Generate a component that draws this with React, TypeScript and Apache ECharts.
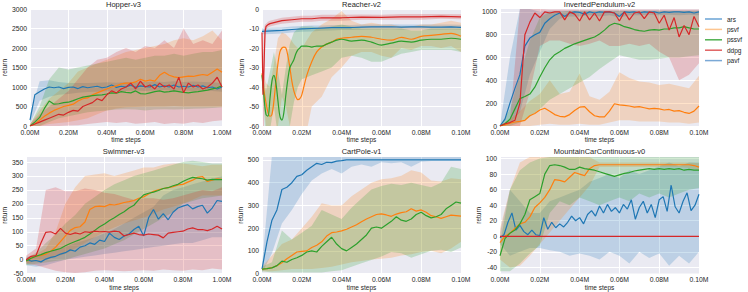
import React, { useEffect, useRef } from "react";
import * as echarts from "echarts";

// ---------- colours ----------
const LINE: Record<string, string> = { ars: "#1f77b4", psvf: "#ff7f0e", pssvf: "#2ca02c", ddpg: "#d62728", pavf: "#7ba9d6" };
const FILL: Record<string, string> = {
  ars: "rgba(31,119,180,0.22)",
  psvf: "rgba(255,127,14,0.22)",
  pssvf: "rgba(44,160,44,0.22)",
  ddpg: "rgba(214,39,40,0.22)",
};
const LEGEND_NAMES = ["ars", "psvf", "pssvf", "ddpg", "pavf"];
const LEGEND_COLORS = ["#6aa3d5", "#fdc590", "#50b050", "#e06060", "#7ba9d6"];

// time-step grids (sample positions, in millions of steps)
const steps = (n: number, dx: number) => Array.from({ length: n }, (_, i) => +(i * dx).toFixed(5));
const X41_1 = steps(41, 0.025);
const X21_1 = steps(21, 0.05);
const X41_01 = steps(41, 0.0025);
const X21_01 = steps(21, 0.005);
const X51_01 = steps(51, 0.002);

// ---------- Hopper-v3 ----------
const hopperArs = [150, 800, 880, 950, 1000, 980, 1000, 960, 990, 1000, 960, 1010, 980, 1000, 1020, 980, 1000, 1050, 990, 1020, 1000, 1050, 990, 1030, 1010, 1000, 1060, 1000, 1030, 1000, 1050, 1000, 1020, 1000, 1040, 1000, 1030, 980, 1000, 950, 1000];
const hopperPsvf = [0, 50, 150, 250, 330, 400, 450, 500, 530, 560, 640, 700, 720, 800, 850, 900, 950, 1000, 1030, 1080, 1100, 1100, 1130, 1200, 1150, 1180, 1150, 1300, 1380, 1300, 1260, 1240, 1260, 1280, 1270, 1300, 1320, 1300, 1380, 1460, 1380];
const hopperPssvf = [0, 100, 220, 450, 640, 560, 570, 600, 610, 650, 700, 740, 760, 780, 790, 800, 820, 850, 840, 880, 860, 850, 900, 830, 820, 850, 880, 900, 870, 880, 900, 880, 860, 850, 870, 880, 900, 920, 950, 980, 1030];
const hopperDdpg = [0, 50, 100, 150, 200, 250, 300, 280, 350, 400, 380, 500, 550, 600, 700, 650, 800, 900, 850, 950, 1000, 1100, 950, 1150, 1000, 1050, 950, 1100, 1000, 1050, 950, 1250, 850, 1100, 1000, 1050, 950, 1000, 1100, 1250, 1000];
const hopperArsLo = [50, 650, 750, 800, 820, 850, 870, 880, 890, 900, 900, 910, 900, 910, 920, 900, 910, 900, 910, 900, 880];
const hopperArsHi = [300, 1150, 1170, 1130, 1100, 1100, 1100, 1110, 1120, 1110, 1130, 1120, 1130, 1140, 1130, 1150, 1130, 1140, 1130, 1120, 1100];
const hopperPsvfLo = [0, 0, 50, 80, 100, 150, 200, 300, 400, 450, 480, 490, 500, 500, 500, 510, 500, 500, 500, 500, 500];
const hopperPsvfHi = [50, 400, 700, 900, 1100, 1400, 1500, 1600, 1700, 1800, 1900, 1950, 2000, 2050, 2100, 2200, 2250, 2200, 2300, 2450, 2200];
const hopperPssvfLo = [0, 0, 100, 200, 250, 300, 350, 380, 400, 420, 430, 420, 400, 420, 430, 420, 430, 440, 450, 460, 480];
const hopperPssvfHi = [30, 500, 1200, 1500, 1450, 1500, 1550, 1600, 1650, 1700, 1750, 1700, 1750, 1800, 1800, 1850, 1800, 1850, 1900, 1900, 1950];
const hopperDdpgLo = [0, 0, 0, 0, 10, 20, 50, 80, 100, 80, 100, 60, 80, 100, 50, 80, 60, 100, 80, 120, 150];
const hopperDdpgHi = [50, 300, 500, 700, 900, 1200, 1500, 1700, 1750, 1900, 2000, 1900, 2050, 2000, 2200, 2000, 2500, 2100, 2200, 2100, 2450];

// ---------- Reacher-v2 ----------
const reacherX = [0, 0.001, 0.002, 0.003, 0.004, 0.005, 0.006, 0.007, 0.008, 0.009, 0.01, 0.011, 0.012, 0.013, 0.014, 0.015, 0.016, 0.017, 0.018, 0.019, 0.02, 0.0225, 0.025, 0.0275, 0.03, 0.0325, 0.035, 0.0375, 0.04, 0.045, 0.05, 0.055, 0.06, 0.065, 0.07, 0.075, 0.08, 0.085, 0.09, 0.095, 0.1];
const reacherPsvf = [-33, -42, -48, -53, -55, -54, -47, -37, -28, -22, -20, -19.5, -20, -24, -30, -37, -42, -45, -46.5, -46, -44, -34, -27, -22, -19.5, -18, -17, -15.5, -15, -14.5, -14, -14.5, -15.5, -16, -14.5, -15.5, -14, -13.5, -13, -12.5, -14];
const reacherPssvf = [-34, -45, -54, -55, -46, -37, -34, -38, -47, -55, -57, -53, -44, -36, -30, -28, -26, -23, -21, -20, -19, -19, -19.5, -19, -19, -18, -17, -16, -15.5, -16.5, -16, -17, -18.5, -17.5, -16.5, -17, -16, -15.5, -15.5, -15, -15.5];
const reacherDdpgX = [0, 0.0005, 0.001, 0.0015, 0.002, 0.003, 0.004, 0.006, 0.008, 0.01, 0.015, 0.02, 0.025, 0.03, 0.04, 0.05, 0.06, 0.07, 0.08, 0.09, 0.1];
const reacherDdpg = [-12, -44, -30, -12, -9, -8, -7.5, -7, -6.5, -6, -5.5, -5, -5, -4.5, -4.5, -4.2, -4.3, -4, -4, -3.8, -4];
const reacherDdpgLo = [-13, -60, -60, -20, -10.5, -9.5, -9, -8.5, -8, -7.5, -7, -6.5, -6.5, -6, -6, -5.5, -5.5, -5.5, -5.5, -5, -5.3];
const reacherDdpgHi = [-11, -30, -10, -8, -7.5, -6.5, -6, -5.5, -5, -4.5, -4, -3.5, -3.5, -3, -3, -2.8, -2.9, -2.6, -2.6, -2.5, -2.7];
const reacherArs = [-11.5, -11.2, -11, -10.5, -10.2, -10, -9.8, -9.6, -9.5, -9.5, -9.3, -9.2, -9.2, -9.1, -9.3, -9.2, -9.2, -9.3, -9.3, -9.2, -9.4];
const reacherArsLo = [-13, -12.8, -12.5, -12, -11.7, -11.5, -11.2, -11, -10.8, -10.8, -10.6, -10.5, -10.5, -10.4, -10.6, -10.5, -10.5, -10.6, -10.6, -10.5, -10.7];
const reacherArsHi = [-10, -9.6, -9.5, -9, -8.7, -8.5, -8.4, -8.2, -8.2, -8.2, -8, -7.9, -7.9, -7.8, -8, -7.9, -7.9, -8, -8, -7.9, -8.1];
const reacherBandX = [0, 0.002, 0.004, 0.006, 0.008, 0.01, 0.012, 0.014, 0.016, 0.018, 0.02, 0.025, 0.03, 0.035, 0.04, 0.045, 0.05, 0.055, 0.06, 0.065, 0.07, 0.075, 0.08, 0.085, 0.09, 0.095, 0.1];
const reacherPsvfLo = [-36, -60, -70, -70, -60, -45, -50, -60, -70, -75, -75, -50, -45, -35, -30, -24, -22, -22, -24, -25, -20, -21, -19, -19, -20, -19, -22];
const reacherPsvfHi = [-30, -38, -40, -28, -15, -12, -13, -15, -18, -20, -20, -12, -8, -5, -1, -6, -8, -7, -8, -8, -9, -9, -8, -8, -7, -6, -7];
const reacherPssvfLo = [-36, -70, -62, -50, -65, -70, -70, -60, -48, -40, -36, -34, -32, -30, -25, -24, -25, -27, -27, -25, -23, -22, -21, -21, -21, -21, -22];
const reacherPssvfHi = [-32, -42, -32, -22, -32, -44, -30, -18, -12, -10, -9, -9, -10, -9, -8, -9, -10, -10, -10, -10, -10, -11, -11, -10, -10, -10, -10];

// ---------- InvertedPendulum-v2 ----------
const pendArs = [0, 60, 200, 330, 450, 700, 770, 800, 820, 900, 940, 970, 990, 960, 990, 1000, 995, 980, 1000, 990, 1000, 995, 1000, 990, 960, 1000, 995, 1000, 990, 1000, 995, 1000, 990, 1000, 995, 1000, 1000, 995, 1000, 990, 1000];
const pendPsvf = [0, 10, 25, 35, 40, 50, 90, 110, 140, 155, 130, 100, 85, 80, 100, 135, 165, 170, 125, 90, 80, 80, 130, 195, 185, 180, 175, 165, 170, 160, 150, 155, 150, 140, 145, 130, 135, 120, 110, 130, 175];
const pendPssvf = [0, 20, 60, 150, 240, 258, 280, 340, 430, 510, 580, 625, 650, 680, 700, 720, 735, 750, 765, 780, 806, 840, 880, 900, 890, 870, 860, 845, 835, 830, 840, 845, 840, 850, 850, 860, 860, 870, 860, 850, 850];
const pendDdpg = [0, 20, 30, 50, 200, 800, 910, 990, 950, 1000, 990, 1000, 1000, 930, 1000, 980, 920, 1000, 930, 990, 920, 1000, 1000, 990, 920, 1000, 930, 990, 1000, 940, 1000, 990, 900, 970, 840, 950, 780, 880, 800, 960, 870];
const pendArsLo = [0, 20, 120, 450, 650, 850, 940, 960, 960, 970, 960, 970, 950, 970, 970, 975, 970, 975, 970, 975, 970];
const pendArsHi = [0, 600, 1025, 1025, 1000, 1010, 1010, 1010, 1010, 1010, 1010, 1010, 1010, 1010, 1010, 1010, 1010, 1010, 1010, 1010, 1010];
const pendPsvfLo = [0, 0, 0, 0, 10, 20, 10, 10, 20, 10, 10, 30, 50, 50, 40, 40, 40, 30, 30, 20, 30];
const pendPsvfHi = [0, 60, 130, 220, 280, 400, 280, 300, 460, 260, 230, 300, 470, 420, 390, 380, 360, 370, 350, 330, 440];
const pendPssvfLo = [0, 0, 30, 80, 150, 230, 280, 330, 380, 430, 500, 560, 620, 600, 580, 580, 590, 600, 600, 610, 620];
const pendPssvfHi = [0, 150, 450, 750, 950, 1000, 1000, 1010, 1010, 1010, 1010, 1010, 1010, 1010, 1010, 1010, 1010, 1010, 1010, 1010, 1010];
const pendDdpgLo = [0, 0, 0, 300, 700, 750, 750, 720, 700, 720, 750, 700, 700, 720, 700, 720, 650, 600, 400, 450, 550];
const pendDdpgHi = [0, 60, 1025, 1025, 1025, 1020, 1020, 1020, 1020, 1020, 1020, 1020, 1020, 1020, 1020, 1020, 1020, 1020, 1020, 1020, 1020];

// ---------- Swimmer-v3 ----------
const swimArs = [0, -5, -3, -8, 2, 8, 12, 20, 25, 35, 30, 45, 50, 60, 55, 70, 65, 95, 80, 72, 85, 92, 108, 120, 85, 150, 180, 145, 165, 143, 170, 185, 192, 197, 182, 190, 195, 167, 185, 212, 209];
const swimPsvf = [-5, 5, 12, 15, 20, 30, 45, 65, 85, 105, 115, 118, 135, 180, 190, 192, 190, 198, 196, 200, 205, 208, 212, 220, 225, 235, 245, 250, 255, 258, 262, 268, 270, 278, 285, 295, 298, 280, 285, 290, 288];
const swimPssvf = [-5, 5, 12, 18, 25, 30, 35, 40, 50, 58, 65, 72, 80, 92, 105, 118, 128, 140, 150, 162, 172, 185, 195, 215, 232, 238, 242, 248, 255, 258, 265, 270, 280, 288, 295, 292, 290, 285, 288, 287, 287];
const swimDdpg = [0, 12, 15, 60, 98, 100, 92, 112, 95, 90, 96, 92, 100, 98, 102, 100, 101, 99, 102, 100, 85, 90, 95, 90, 88, 92, 90, 88, 78, 95, 98, 100, 102, 110, 114, 108, 108, 104, 110, 120, 110];
const swimArsLo = [-20, -25, -20, -10, 0, 5, 10, 15, 20, 25, 30, 35, 40, 45, 50, 55, 60, 60, 70, 80, 80];
const swimArsHi = [10, 15, 20, 35, 45, 60, 70, 80, 95, 110, 130, 150, 170, 190, 230, 250, 260, 270, 280, 290, 300];
const swimPsvfLo = [-15, -5, 0, 10, 20, 40, 60, 80, 100, 115, 130, 140, 150, 165, 180, 190, 200, 215, 230, 230, 230];
const swimPsvfHi = [5, 20, 40, 100, 200, 260, 300, 305, 310, 300, 310, 320, 330, 330, 340, 345, 345, 340, 335, 340, 340];
const swimPssvfLo = [-20, -15, -10, -5, 0, 10, 20, 30, 40, 55, 70, 90, 110, 130, 150, 170, 200, 210, 220, 225, 230];
const swimPssvfHi = [5, 25, 60, 90, 130, 160, 200, 225, 250, 270, 285, 300, 310, 320, 330, 340, 350, 355, 350, 345, 345];
const swimDdpgLo = [-15, -20, -30, -40, -45, -48, -45, -40, -38, -40, -42, -40, -38, -40, -35, -38, -40, -35, -38, -32, -35];
const swimDdpgHi = [15, 40, 250, 260, 245, 245, 255, 250, 240, 235, 225, 215, 220, 220, 215, 220, 230, 240, 250, 245, 260];

// ---------- CartPole-v1 ----------
const cartArs = [20, 140, 235, 280, 370, 380, 400, 428, 435, 455, 470, 485, 480, 490, 488, 495, 497, 500, 500, 500, 500, 500, 500, 500, 500, 500, 500, 500, 500, 500, 500, 500, 500, 500, 500, 500, 500, 500, 500, 500, 500];
const cartPsvf = [20, 22, 26, 35, 48, 65, 80, 95, 98, 100, 115, 125, 140, 165, 180, 183, 188, 195, 205, 215, 228, 240, 250, 260, 263, 258, 252, 262, 268, 272, 285, 275, 280, 270, 255, 250, 243, 250, 257, 255, 253];
const cartPssvf = [20, 22, 25, 35, 55, 50, 62, 70, 80, 95, 100, 95, 120, 140, 160, 130, 110, 100, 115, 130, 150, 170, 200, 205, 200, 215, 230, 250, 235, 230, 240, 260, 270, 255, 245, 250, 260, 285, 300, 315, 310];
const cartArsLo = [0, 90, 220, 280, 350, 410, 440, 460, 440, 470, 480, 470, 490, 485, 490, 470, 492, 495, 495, 495, 495];
const cartArsHi = [40, 520, 520, 520, 520, 520, 520, 520, 520, 520, 520, 520, 520, 520, 520, 520, 520, 520, 520, 520, 520];
const cartPsvfLo = [10, 10, 15, 20, 20, 20, 25, 30, 40, 50, 55, 62, 65, 70, 80, 85, 95, 100, 90, 110, 140];
const cartPsvfHi = [30, 80, 130, 150, 200, 250, 310, 300, 300, 340, 370, 400, 415, 420, 430, 455, 445, 410, 405, 420, 415];
const cartPssvfLo = [10, 5, 5, 5, 5, 5, 5, 10, 15, 30, 45, 60, 75, 95, 90, 70, 85, 100, 105, 95, 115];
const cartPssvfHi = [30, 50, 190, 150, 180, 210, 280, 260, 240, 290, 330, 370, 385, 395, 390, 400, 390, 380, 400, 470, 460];

// ---------- MountainCarContinuous-v0 ----------
const mcArs = [-2, 2, 18, 30, 8, 14, 6, 2, 8, 2, 1, 24, 9, 18, 11, 16, 12, 18, 26, 20, 24, 16, 28, 33, 26, 39, 30, 41, 32, 37, 30, 41, 35, 47, 22, 37, 45, 30, 41, 24, 47, 51, 32, 66, 38, 30, 45, 56, 33, 40, 54];
const mcPsvf = [-8, 0, 4, 10, 16, 18, 25, 37, 43, 50, 60, 73, 72, 70, 76, 82, 80, 78, 87, 91, 92, 92, 92, 92, 92, 92, 92, 92, 92, 92, 92, 92, 92, 92, 92, 92, 92, 92, 92, 91, 89];
const mcPssvf = [-25, -3, 4, 8, 16, 28, 47, 51, 55, 80, 91, 92, 91, 89, 86, 86, 89, 87, 86, 85, 83, 81, 79, 77, 79, 81, 82, 84, 85, 86, 87, 86, 87, 86, 87, 86, 87, 85, 86, 85, 85];
const mcDdpgX = [0, 0.02, 0.04, 0.06, 0.08, 0.1];
const mcDdpg = [0, 0, 0, 0, 0, 0];
const mcArsLo = [-10, -25, -20, -15, -15, -18, -20, -25, -22, -25, -30, -20, -25, -35, -20, -28, -22, -38, -25, -35, -20];
const mcArsHi = [5, 60, 45, 30, 30, 45, 50, 55, 60, 70, 75, 80, 75, 85, 80, 85, 90, 95, 90, 95, 95];
const mcPsvfLo = [-30, -40, -38, -25, -10, 5, 20, 35, 50, 65, 89, 89, 89, 89, 89, 89, 89, 89, 89, 88, 85];
const mcPsvfHi = [10, 60, 95, 102, 102, 102, 102, 102, 102, 102, 95, 95, 95, 95, 95, 95, 95, 95, 95, 95, 94];
const mcPssvfLo = [-45, -45, -35, -22, -12, 30, 45, 40, 50, 45, 40, 45, 50, 45, 55, 50, 55, 50, 55, 60, 62];
const mcPssvfHi = [-10, 60, 85, 95, 100, 102, 102, 102, 102, 102, 102, 102, 102, 102, 102, 102, 102, 102, 102, 102, 102];

type Run = { key: string; x: number[]; y: number[]; bx?: number[]; lo?: number[]; hi?: number[]; smooth?: number };
type Panel = {
  title: string; col: number; row: number; xMax: number; xInt: number;
  yMin: number; yMax: number; yInt?: number; ySplit?: number; hideMin?: boolean; hideMax?: boolean; runs: Run[];
};

const panels: Panel[] = [
  {
    title: "Hopper-v3", col: 0, row: 0, xMax: 1, xInt: 0.2, yMin: 0, yMax: 3000, yInt: 500,
    runs: [
      { key: "ars", x: X41_1, y: hopperArs, bx: X21_1, lo: hopperArsLo, hi: hopperArsHi },
      { key: "psvf", x: X41_1, y: hopperPsvf, bx: X21_1, lo: hopperPsvfLo, hi: hopperPsvfHi },
      { key: "pssvf", x: X41_1, y: hopperPssvf, bx: X21_1, lo: hopperPssvfLo, hi: hopperPssvfHi },
      { key: "ddpg", x: X41_1, y: hopperDdpg, bx: X21_1, lo: hopperDdpgLo, hi: hopperDdpgHi },
    ],
  },
  {
    title: "Reacher-v2", col: 1, row: 0, xMax: 0.1, xInt: 0.02, yMin: -60, yMax: 0, yInt: 10,
    runs: [
      { key: "ars", x: X21_01, y: reacherArs, bx: X21_01, lo: reacherArsLo, hi: reacherArsHi },
      { key: "psvf", x: reacherX, y: reacherPsvf, bx: reacherBandX, lo: reacherPsvfLo, hi: reacherPsvfHi, smooth: 0.35 },
      { key: "pssvf", x: reacherX, y: reacherPssvf, bx: reacherBandX, lo: reacherPssvfLo, hi: reacherPssvfHi, smooth: 0.35 },
      { key: "ddpg", x: reacherDdpgX, y: reacherDdpg, bx: reacherDdpgX, lo: reacherDdpgLo, hi: reacherDdpgHi },
    ],
  },
  {
    title: "InvertedPendulum-v2", col: 2, row: 0, xMax: 0.1, xInt: 0.02, yMin: 0, yMax: 1025, yInt: 200, hideMax: true,
    runs: [
      { key: "ars", x: X41_01, y: pendArs, bx: X21_01, lo: pendArsLo, hi: pendArsHi },
      { key: "psvf", x: X41_01, y: pendPsvf, bx: X21_01, lo: pendPsvfLo, hi: pendPsvfHi },
      { key: "pssvf", x: X41_01, y: pendPssvf, bx: X21_01, lo: pendPssvfLo, hi: pendPssvfHi },
      { key: "ddpg", x: X41_01, y: pendDdpg, bx: X21_01, lo: pendDdpgLo, hi: pendDdpgHi },
    ],
  },
  {
    title: "Swimmer-v3", col: 0, row: 1, xMax: 1, xInt: 0.2, yMin: -50, yMax: 368, yInt: 50, hideMax: true,
    runs: [
      { key: "ars", x: X41_1, y: swimArs, bx: X21_1, lo: swimArsLo, hi: swimArsHi },
      { key: "psvf", x: X41_1, y: swimPsvf, bx: X21_1, lo: swimPsvfLo, hi: swimPsvfHi },
      { key: "pssvf", x: X41_1, y: swimPssvf, bx: X21_1, lo: swimPssvfLo, hi: swimPssvfHi },
      { key: "ddpg", x: X41_1, y: swimDdpg, bx: X21_1, lo: swimDdpgLo, hi: swimDdpgHi },
    ],
  },
  {
    title: "CartPole-v1", col: 1, row: 1, xMax: 0.1, xInt: 0.02, yMin: 0, yMax: 513, yInt: 100, hideMax: true,
    runs: [
      { key: "ars", x: X41_01, y: cartArs, bx: X21_01, lo: cartArsLo, hi: cartArsHi },
      { key: "psvf", x: X41_01, y: cartPsvf, bx: X21_01, lo: cartPsvfLo, hi: cartPsvfHi },
      { key: "pssvf", x: X41_01, y: cartPssvf, bx: X21_01, lo: cartPssvfLo, hi: cartPssvfHi },
    ],
  },
  {
    title: "MountainCarContinuous-v0", col: 2, row: 1, xMax: 0.1, xInt: 0.02, yMin: -48, yMax: 102, ySplit: 7, hideMin: true, hideMax: true,
    runs: [
      { key: "ars", x: X51_01, y: mcArs, bx: X21_01, lo: mcArsLo, hi: mcArsHi },
      { key: "psvf", x: X41_01, y: mcPsvf, bx: X21_01, lo: mcPsvfLo, hi: mcPsvfHi },
      { key: "pssvf", x: X41_01, y: mcPssvf, bx: X21_01, lo: mcPssvfLo, hi: mcPssvfHi },
      { key: "ddpg", x: mcDdpgX, y: mcDdpg },
    ],
  },
];

// ---------- layout ----------
const COLS = [{ left: 25, width: 197, nameGap: 16 }, { left: 262, width: 199, nameGap: 13 }, { left: 500, width: 199, nameGap: 17 }];
const ROWS = [{ top: 9, height: 117, titleTop: 0 }, { top: 157, height: 118, titleTop: 147 }];
const TXT = "#262626";
const FONT = "Liberation Sans, Arial, sans-serif";

function buildOption() {
  const grid: any[] = [];
  const xAxis: any[] = [];
  const yAxis: any[] = [];
  const title: any[] = [];
  const series: any[] = [];

  panels.forEach((p, i) => {
    const c = COLS[p.col];
    const r = ROWS[p.row];
    grid.push({ left: c.left, top: r.top, width: c.width, height: r.height, show: true, backgroundColor: "#EAEAF2", borderWidth: 0, containLabel: false });
    title.push({
      text: p.title, left: c.left + c.width / 2, top: r.titleTop, textAlign: "center", padding: 0,
      textStyle: { fontSize: 7.5, fontWeight: "normal", color: TXT, fontFamily: FONT },
    });
    xAxis.push({
      type: "value", gridIndex: i, min: 0, max: p.xMax, interval: p.xInt,
      axisLine: { show: false }, axisTick: { show: false },
      splitLine: { show: true, lineStyle: { color: "#ffffff", width: 1 } },
      axisLabel: { fontSize: 6.8, color: TXT, margin: 2.5, fontFamily: FONT, showMinLabel: true, showMaxLabel: true, formatter: (v: number) => v.toFixed(2) + "M" },
      name: "time steps", nameLocation: "middle", nameGap: 9,
      nameTextStyle: { fontSize: 6.5, color: TXT, fontFamily: FONT },
    });
    const ya: any = {
      type: "value", gridIndex: i, min: p.yMin, max: p.yMax,
      axisLine: { show: false }, axisTick: { show: false },
      splitLine: { show: true, lineStyle: { color: "#ffffff", width: 1 }, showMinLine: !p.hideMin, showMaxLine: !p.hideMax },
      axisLabel: {
        fontSize: 6.8, color: TXT, margin: 3, fontFamily: FONT, showMinLabel: !p.hideMin, showMaxLabel: !p.hideMax,
        formatter: (v: number) => String(Math.round(v * 1000) / 1000),
      },
      name: "return", nameLocation: "middle", nameGap: c.nameGap,
      nameTextStyle: { fontSize: 6.5, color: TXT, fontFamily: FONT },
    };
    if (p.yInt != null) ya.interval = p.yInt; else ya.splitNumber = p.ySplit;
    yAxis.push(ya);

    // bands first
    p.runs.forEach((run) => {
      if (!run.bx || !run.lo || !run.hi) return;
      const pts = run.bx.map((x, k) => [x, run.lo![k], run.hi![k]]);
      const fill = FILL[run.key];
      series.push({
        type: "custom", xAxisIndex: i, yAxisIndex: i, clip: true, silent: true, z: 1,
        data: pts, encode: { x: 0, y: [1, 2] },
        renderItem: (params: any, api: any) => {
          if (params.dataIndex !== 0) return null;
          const upper = pts.map((q) => api.coord([q[0], q[2]]));
          const lower = pts.map((q) => api.coord([q[0], q[1]])).reverse();
          return { type: "polygon", shape: { points: upper.concat(lower) }, style: { fill, stroke: "none" } };
        },
      });
    });
    // mean lines
    p.runs.forEach((run) => {
      series.push({
        type: "line", name: run.key, xAxisIndex: i, yAxisIndex: i, z: 3,
        data: run.x.map((x, k) => [x, run.y[k]]),
        showSymbol: false, symbol: "none", smooth: run.smooth || false, clip: true,
        color: LINE[run.key], lineStyle: { width: 1.2, color: LINE[run.key] },
      });
    });
  });

  series.push({ type: "line", name: "pavf", xAxisIndex: 0, yAxisIndex: 0, data: [], color: LINE.pavf, showSymbol: false });

  return {
    animation: false,
    textStyle: { fontFamily: FONT },
    grid, xAxis, yAxis, title, series,
    legend: {
      orient: "vertical", left: 705, top: 14, padding: 0, itemGap: 0.4, itemWidth: 17, itemHeight: 1.5,
      icon: "rect", selectedMode: false,
      textStyle: { fontSize: 6.5, color: TXT, lineHeight: 10, fontFamily: FONT },
      data: LEGEND_NAMES.map((n, k) => ({ name: n, icon: "rect", itemStyle: { color: LEGEND_COLORS[k] } })),
    },
  };
}

export default function App() {
  const ref = useRef<HTMLDivElement>(null);
  useEffect(() => {
    if (!ref.current) return;
    const chart = echarts.init(ref.current, undefined, { renderer: "svg" });
    chart.setOption(buildOption() as any);
    return () => chart.dispose();
  }, []);
  return <div ref={ref} style={{ position: "fixed", left: 0, top: 0, width: 748, height: 292, background: "#ffffff" }} />;
}
